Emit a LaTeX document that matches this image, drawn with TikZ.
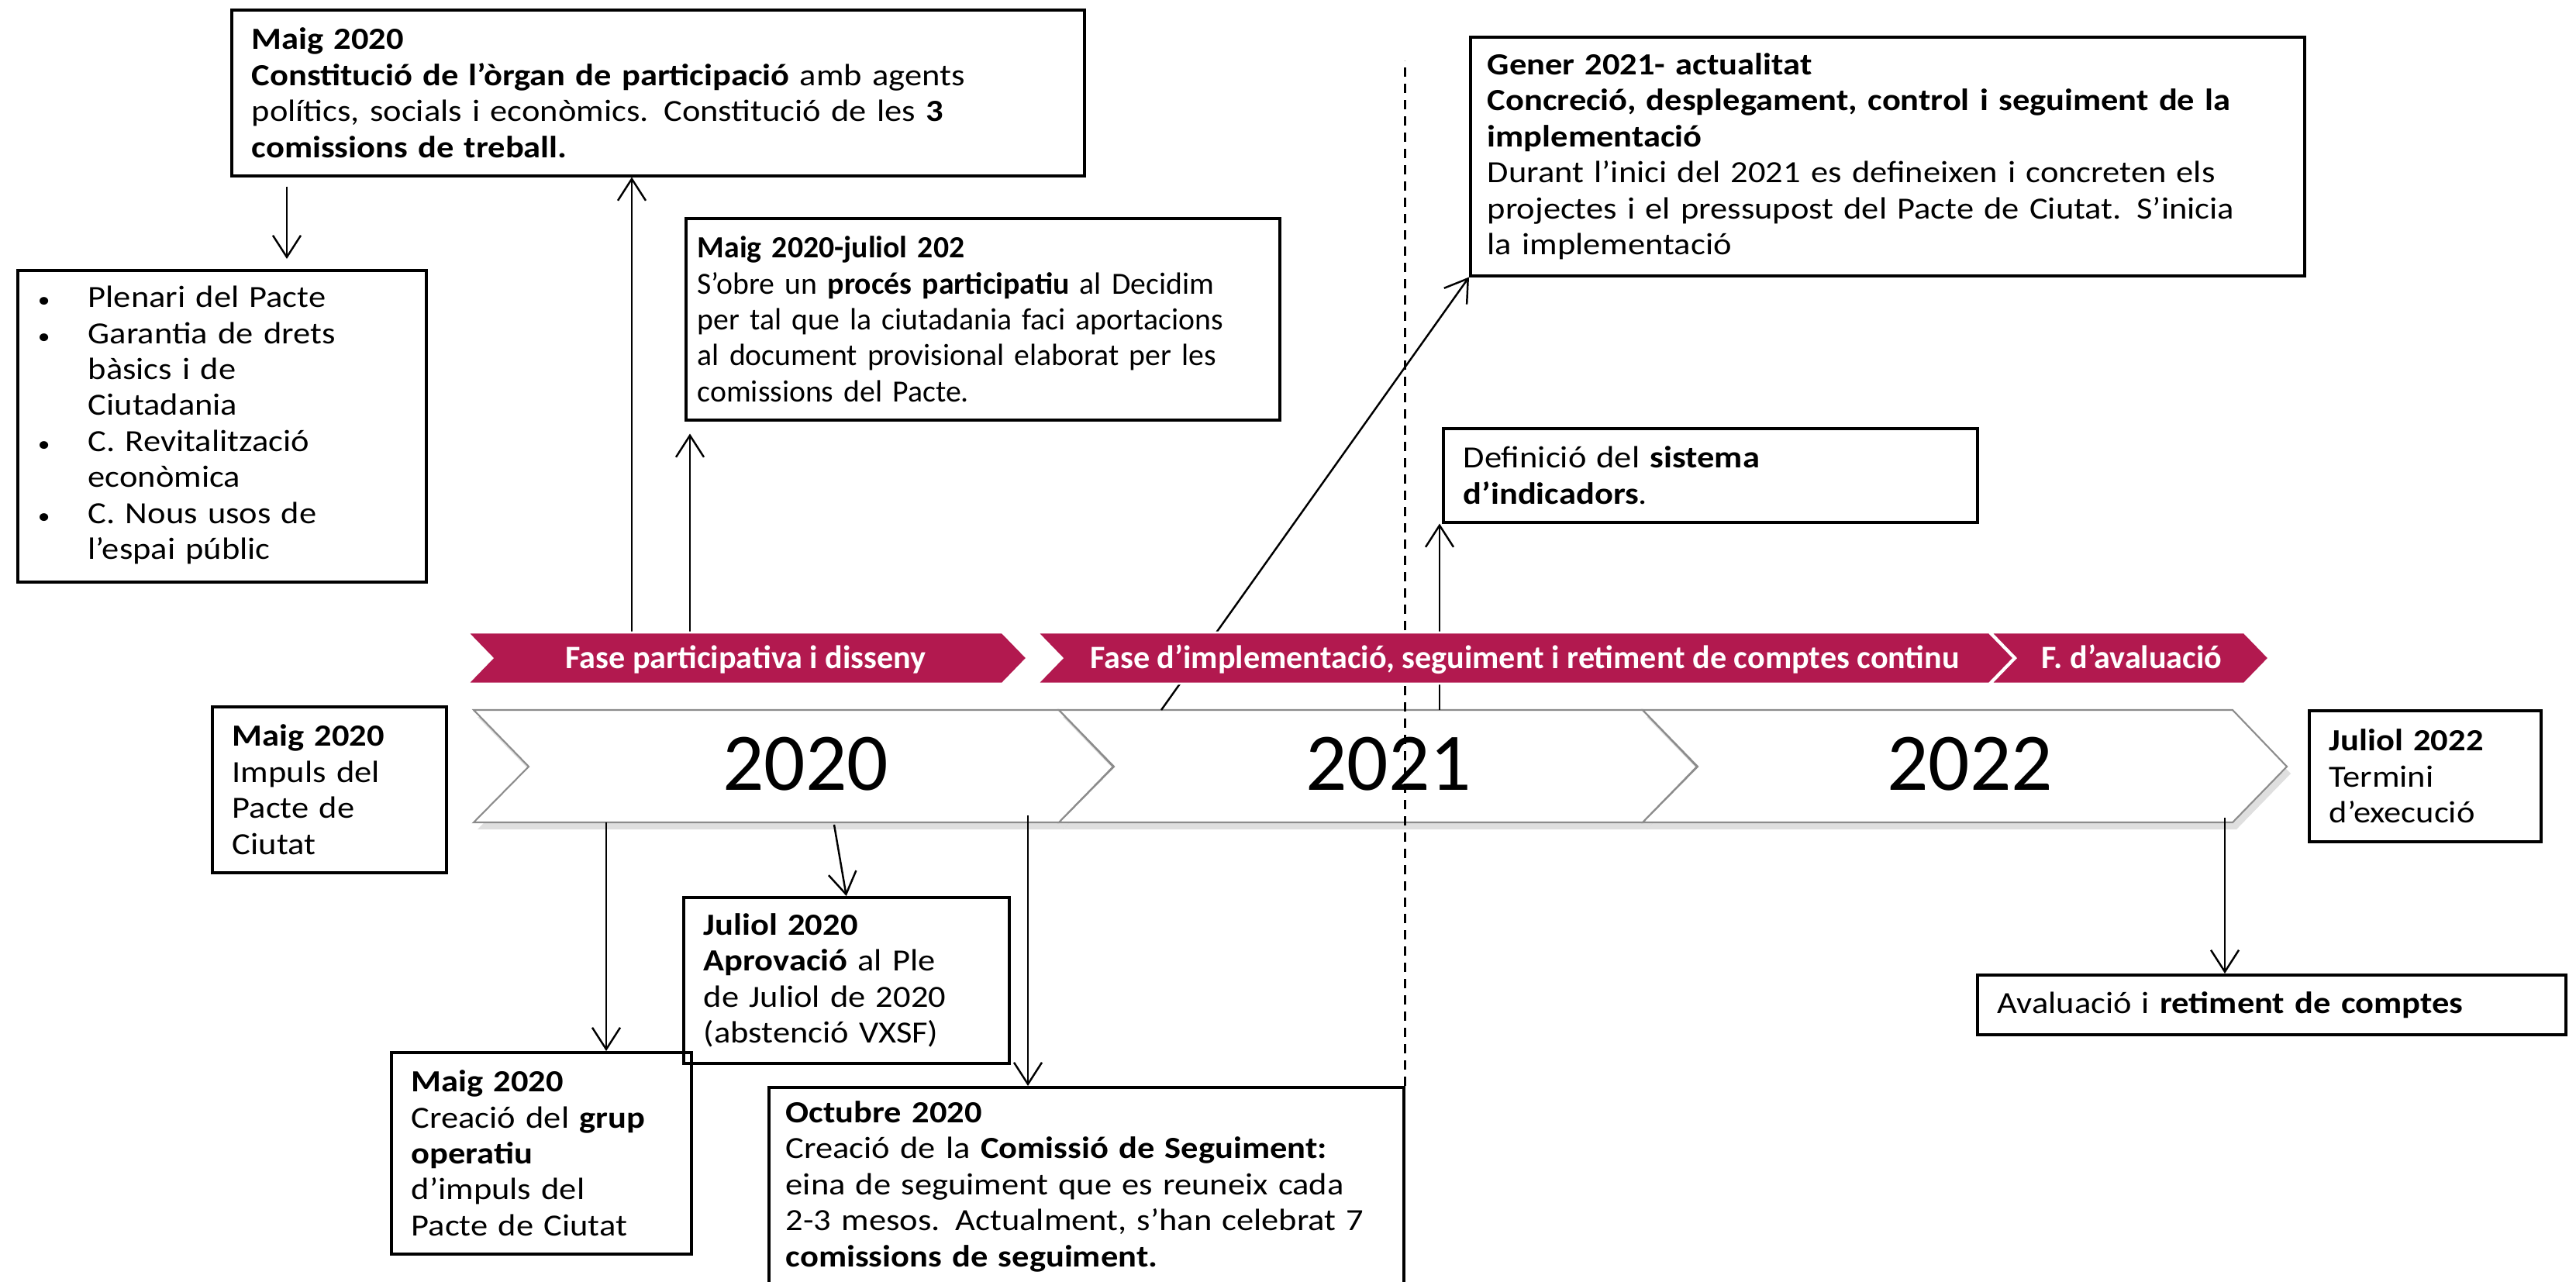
\documentclass[tikz,border=0pt]{standalone}
\usepackage{fontspec}
\setmainfont{Carlito}
\newfontfamily\boxfont[FakeStretch=1.12]{Carlito}
\usetikzlibrary{arrows.meta, positioning, shadows}
\definecolor{phasered}{HTML}{B2194F}
\definecolor{bandgray}{HTML}{8C8C8C}
\hyphenpenalty=10000
\exhyphenpenalty=10000

\begin{document}
\begin{tikzpicture}[
  event/.style={rectangle, draw=black, line width=1pt, anchor=north west, align=left, inner xsep=2.6mm, inner ysep=0pt, font={\boxfont\fontsize{11.3}{13.2}\selectfont}},
  yearband/.style={draw=bandgray, line width=0.6pt, fill=white, drop shadow={shadow xshift=0.5mm, shadow yshift=-0.9mm, opacity=0.25}},
  yearlabel/.style={font=\fontsize{30}{36}\selectfont},
  phase/.style={fill=phasered, draw=white, line width=0.8pt},
  phaselabel/.style={font=\fontsize{12}{14}\selectfont\bfseries, text=white, text height=3.3mm, text depth=0.6mm},
  arrow/.style={-{Straight Barb[length=2.8mm, width=3.6mm]}, line width=0.7pt},
  divider/.style={dash pattern=on 1.2mm off 0.9mm, line width=0.6pt}
]
  \useasboundingbox (0,0) rectangle (33.23,-16.53);

  % Event boxes
  \node[event, text width=10.48cm, minimum height=2.14cm] (constit) at (2.97,-0.11) {\textbf{Maig 2020}\\\textbf{Constitució de l’òrgan de participació} amb agents\\polítics, socials i econòmics. Constitució de les \textbf{3}\\\textbf{comissions de treball.}};

  \node[event, text width=4.75cm, minimum height=4.02cm] (comis) at (0.21,-3.47) {\begin{tabular}{@{}p{0.65cm}@{}l@{}}
    {\footnotesize\textbullet} & Plenari del Pacte\\
    {\footnotesize\textbullet} & Garantia de drets\\
                & bàsics i de\\
                & Ciutadania\\
    {\footnotesize\textbullet} & C. Revitalització\\
                & econòmica\\
    {\footnotesize\textbullet} & C. Nous usos de\\
                & l’espai públic
  \end{tabular}};

  \node[event, inner xsep=1.5mm, text width=7.36cm, minimum height=2.60cm, font={\fontsize{11.3}{13.2}\selectfont}] (proces) at (8.83,-2.80) {\textbf{Maig 2020-juliol 202}\\S’obre un \textbf{procés participatiu} al Decidim\\per tal que la ciutadania faci aportacions\\al document provisional elaborat per les\\comissions del Pacte.};

  \node[event, inner xsep=2.2mm, text width=10.32cm, minimum height=3.08cm] (gener) at (18.95,-0.46) {\textbf{Gener 2021- actualitat}\\\textbf{Concreció, desplegament, control i seguiment de la}\\\textbf{implementació}\\Durant l’inici del 2021 es defineixen i concreten els\\projectes i el pressupost del Pacte de Ciutat. S’inicia\\la implementació};

  \node[event, text width=6.37cm, minimum height=1.21cm] (indic) at (18.60,-5.51) {Definició del \textbf{sistema}\\\textbf{d’indicadors}.};

  \node[event, text width=2.50cm, minimum height=2.14cm] (impuls) at (2.72,-9.10) {\textbf{Maig 2020}\\Impuls del\\Pacte de\\Ciutat};

  \node[event, text width=2.47cm, minimum height=1.69cm] (termini) at (29.77,-9.15) {\textbf{Juliol 2022}\\Termini\\d’execució};

  \node[event, text width=3.68cm, minimum height=2.14cm] (juliol) at (8.80,-11.56) {\textbf{Juliol 2020}\\\textbf{Aprovació} al Ple\\de Juliol de 2020\\(abstenció VXSF)};

  \node[event, text width=3.35cm, minimum height=2.60cm] (grup) at (5.03,-13.56) {\textbf{Maig 2020}\\Creació del \textbf{grup}\\\textbf{operatiu}\\d’impuls del\\Pacte de Ciutat};

  \node[event, inner xsep=2.2mm, text width=7.75cm, minimum height=2.56cm] (octubre) at (9.90,-14.01) {\textbf{Octubre 2020}\\Creació de la \textbf{Comissió de Seguiment:}\\eina de seguiment que es reuneix cada\\2-3 mesos. Actualment, s’han celebrat 7\\\textbf{comissions de seguiment.}};

  \node[event, text width=7.07cm, minimum height=0.77cm] (aval) at (25.49,-12.56) {Avaluació i \textbf{retiment de comptes}};

  % Year band
  \foreach \xa/\xb/\xt/\yr in {6.11/13.66/10.39/2020, 13.66/21.19/17.91/2021, 21.19/28.80/25.41/2022} {
    \draw[yearband] (\xa,-9.16) -- (\xa+0.71,-9.89) -- (\xa,-10.61) -- (\xb,-10.61) -- (\xb+0.70,-9.89) -- (\xb,-9.16) -- cycle;
    \node[yearlabel] (yr\yr) at (\xt,-9.86) {\yr};
  }

  % Points on the timeline
  \coordinate (tConstit) at (8.15,-8.16);
  \coordinate (tProces) at (8.90,-8.16);
  \coordinate (tGener) at (14.98,-9.16);
  \coordinate (tIndic) at (18.57,-9.16);
  \coordinate (tGrup) at (7.82,-10.61);
  \coordinate (tJuliol) at (10.76,-10.64);
  \coordinate (tOct) at (13.26,-10.52);
  \coordinate (tAval) at (28.70,-10.55);
  \coordinate (cutTop) at (18.09,-0.78);
  \coordinate (cDown) at ([xshift=7.3mm]constit.south west);

  % Divider 2020 / 2021
  \draw[divider] (octubre.north east) -- (octubre.north east |- cutTop);

  % Arrows
  \draw[arrow] (tConstit) -- (tConstit |- constit.south);
  \draw[arrow, shorten >=1.6mm] (tProces) -- (tProces |- proces.south);
  \draw[arrow] (tGener) -- (gener.south west);
  \draw[arrow] (tIndic) -- (tIndic |- indic.south);
  \draw[arrow, shorten <=1.2mm, shorten >=1.3mm] (cDown) -- (cDown |- comis.north);

  \draw[arrow] (tGrup) -- (tGrup |- grup.north);
  \draw[arrow] (tJuliol) -- (juliol.north);
  \draw[arrow] (tOct) -- (tOct |- octubre.north);
  \draw[arrow] (tAval) -- (tAval |- aval.north);

  % Phases
  \foreach \xa/\xb/\xt/\nm/\lbl in {6.03/12.93/9.62/fase1/{Fase participativa i disseny}, 13.38/25.66/19.67/fase2/{Fase d’implementació, seguiment i retiment de comptes continu}, 25.68/28.95/27.50/fase3/{F. d’avaluació}} {
    \draw[phase] (\xa,-8.16) -- (\xa+0.32,-8.49) -- (\xa,-8.82) -- (\xb,-8.82) -- (\xb+0.32,-8.49) -- (\xb,-8.16) -- cycle;
    \node[phaselabel] (\nm) at (\xt,-8.49) {\lbl};
  }
\end{tikzpicture}
\end{document}
